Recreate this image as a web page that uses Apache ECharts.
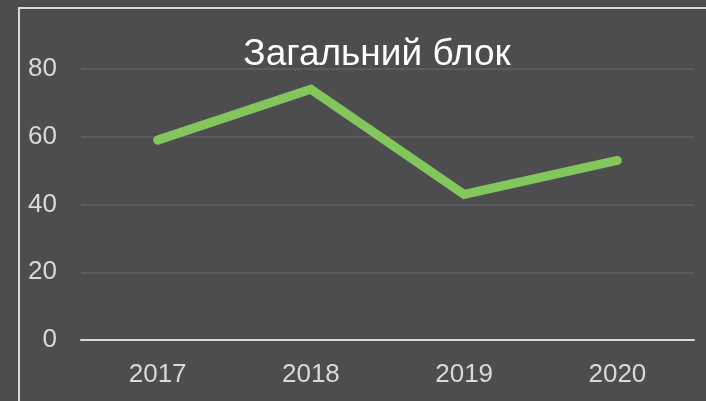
<!DOCTYPE html>
<html>
<head>
<meta charset="utf-8">
<script src="https://cdn.jsdelivr.net/npm/echarts@6/dist/echarts.min.js"></script>
<style>
  html, body { margin: 0; padding: 0; background: #4d4d4f; }
  #chartmain { width: 706px; height: 401px; }
</style>
</head>
<body>
<div id="chartmain"></div>
<script>
var categories = ['2017', '2018', '2019', '2020'];
var values = [59, 74, 43, 53];
var titleText = 'Загальний блок';

function setChartMain() {
    var option = {
        backgroundColor: '#4d4d4f',
        textStyle: { fontFamily: 'Liberation Sans, Arial, sans-serif' },
        title: {
            text: titleText,
            left: 372,
            textAlign: 'center',
            top: 31,
            textStyle: { color: '#ffffff', fontSize: 37, fontWeight: 'normal' }
        },
        grid: { left: 81, right: 12, top: 69, bottom: 61 },
        // white frame around the chart area
        graphic: [{
            type: 'rect',
            shape: { x: 19, y: 8, width: 700, height: 410 },
            style: { fill: 'none', stroke: '#d9d9d9', lineWidth: 2 },
            silent: true
        }],
        xAxis: {
            type: 'category',
            data: categories,
            axisLine: { lineStyle: { color: '#d9d9d9', width: 2 } },
            axisTick: { show: false },
            axisLabel: { color: '#d9d9d9', fontSize: 26, margin: 22 }
        },
        yAxis: {
            type: 'value',
            min: 0,
            max: 80,
            interval: 20,
            axisLine: { show: false },
            axisTick: { show: false },
            axisLabel: { color: '#d9d9d9', fontSize: 26, margin: 24 },
            splitLine: { lineStyle: { color: '#626264', width: 1.5 } }
        },
        series: [{
            type: 'line',
            data: values,
            symbol: 'none',
            lineStyle: { color: '#82c65c', width: 9, cap: 'round', join: 'miter' }
        }],
        animation: false
    };
    var myChart = echarts.init(document.getElementById('chartmain'));
    myChart.setOption(option);
}
setChartMain();
</script>
</body>
</html>
